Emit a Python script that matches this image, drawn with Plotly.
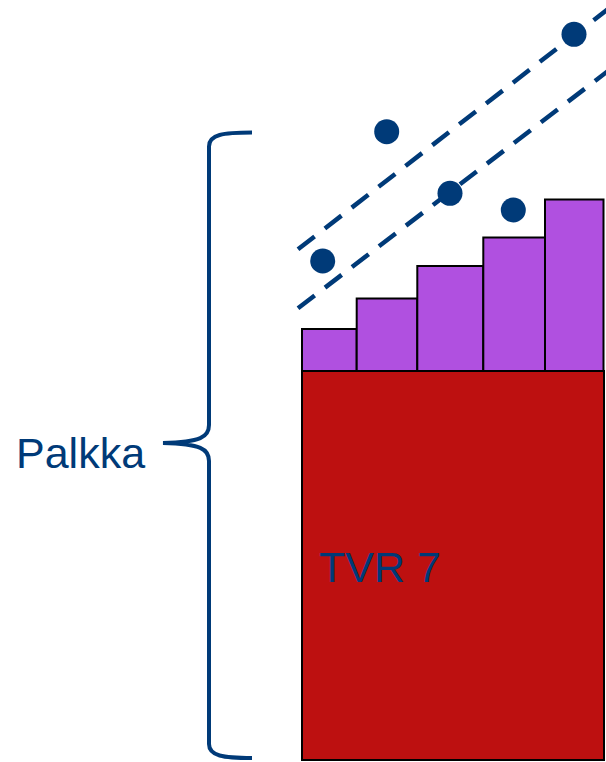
import plotly.graph_objects as go

# ---- data (value units: 0 = bottom of the salary bar) ----
base_label = "TVR 7"
base_value = 389.0                     # basic salary (TVR 7)
base_span = [302.0, 604.0]             # horizontal extent of base block

step_left = [302.0, 356.7, 417.3, 483.3, 545.0]
step_right = [356.7, 417.3, 483.3, 545.0, 603.5]
step_top = [431.0, 461.5, 494.0, 522.5, 560.5]   # level incl. personal increments

point_x = [322.7, 386.7, 450.0, 513.3, 574.0]
point_y = [499.0, 628.3, 566.7, 550.0, 725.7]

upper_line_x = [298.0, 640.0]
upper_line_y = [510.7, 775.8]
lower_line_x = [298.0, 640.0]
lower_line_y = [451.7, 713.5]

brace_label = "Palkka"

NAVY = "#003a78"
RED = "#bd1010"
PURPLE = "#b050e0"

fig = go.Figure()

# base block
fig.add_trace(go.Bar(
    x=[(base_span[0] + base_span[1]) / 2], y=[base_value], base=[0],
    width=[base_span[1] - base_span[0]],
    marker=dict(color=RED, line=dict(color="black", width=2)),
    hoverinfo="skip",
))

# increment steps
fig.add_trace(go.Bar(
    x=[(l + r) / 2 for l, r in zip(step_left, step_right)],
    y=[t - base_value for t in step_top],
    base=[base_value] * len(step_top),
    width=[r - l for l, r in zip(step_left, step_right)],
    marker=dict(color=PURPLE, line=dict(color="black", width=2)),
    hoverinfo="skip",
))

# dashed band lines
for lx, ly in [(upper_line_x, upper_line_y), (lower_line_x, lower_line_y)]:
    fig.add_trace(go.Scatter(
        x=lx, y=ly, mode="lines",
        line=dict(color=NAVY, width=4.5, dash="21px,13px"),
        hoverinfo="skip",
    ))

# points
fig.add_trace(go.Scatter(
    x=point_x, y=point_y, mode="markers",
    marker=dict(color=NAVY, size=25, line=dict(width=0)),
    hoverinfo="skip",
))

# curly brace spanning the whole salary
top_y = 627.5
bot_y = 2.0
mid_y = 317.0
vx = 209.0
tip_x = 163.0
arm_x = 252.0
path = (
    f"M {arm_x},{top_y} "
    f"C {vx+14},{top_y} {vx},{top_y-2} {vx},{top_y-14} "
    f"L {vx},{mid_y+18} "
    f"C {vx},{mid_y+6} {vx-8},{mid_y+1} {tip_x},{mid_y} "
    f"C {vx-8},{mid_y-1} {vx},{mid_y-6} {vx},{mid_y-18} "
    f"L {vx},{bot_y+14} "
    f"C {vx},{bot_y+2} {vx+14},{bot_y} {arm_x},{bot_y}"
)
fig.add_shape(type="path", path=path, xref="x", yref="y",
              line=dict(color=NAVY, width=4))

fig.add_annotation(x=14, y=mid_y - 10, text=brace_label, showarrow=False,
                   xanchor="left", yanchor="middle",
                   font=dict(family="Liberation Sans, Arial", size=43, color=NAVY))
fig.add_annotation(x=317, y=193.5, text=base_label, showarrow=False,
                   xanchor="left", yanchor="middle",
                   font=dict(family="Liberation Sans, Arial", size=43, color=NAVY))

fig.update_layout(
    width=606, height=762, autosize=False,
    margin=dict(l=0, r=0, t=0, b=0),
    paper_bgcolor="white", plot_bgcolor="white",
    showlegend=False, barmode="overlay",
    xaxis=dict(range=[0, 606], visible=False, fixedrange=True),
    yaxis=dict(range=[-2, 760], visible=False, fixedrange=True),
)

fig.write_html(
    "out.html",
    config={"displayModeBar": False},
    post_script="document.body.style.margin='0';document.body.style.overflow='hidden';",
)
